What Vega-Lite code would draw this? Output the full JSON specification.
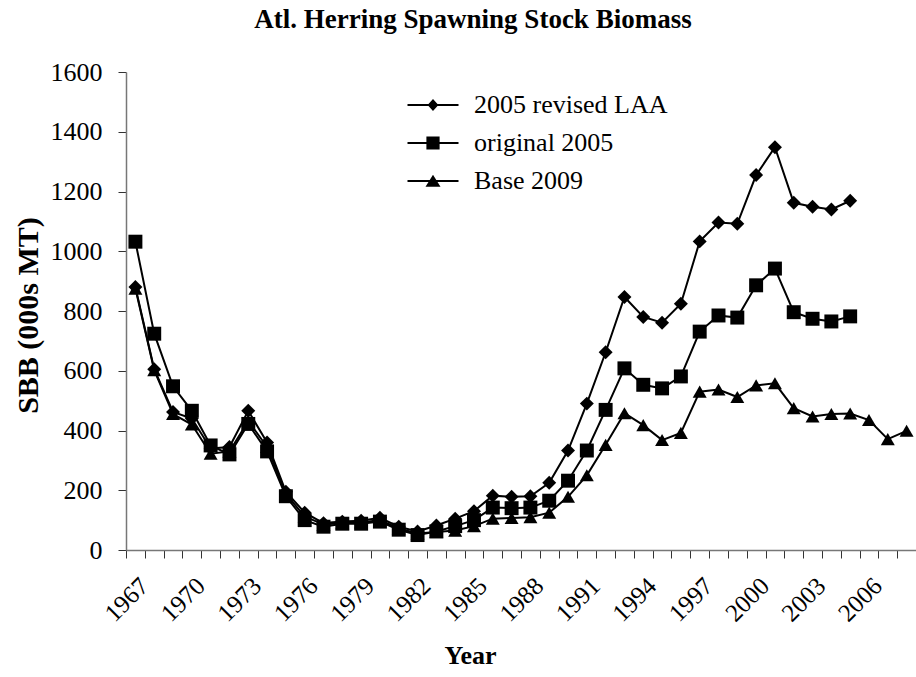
{
  "$schema": "https://vega.github.io/schema/vega-lite/v6.json",
  "width": 790,
  "height": 478,
  "autosize": {"type": "none"},
  "padding": {"left": 126, "top": 72, "right": 0, "bottom": 127},
  "background": "white",
  "config": {
    "view": {"stroke": null},
    "font": "Liberation Serif"
  },
  "title": {
    "text": "Atl. Herring Spawning Stock Biomass",
    "font": "Liberation Serif",
    "fontSize": 27,
    "fontWeight": "bold",
    "color": "black",
    "anchor": "middle",
    "frame": "group",
    "dx": -48,
    "offset": 25
  },
  "data": {
    "values": [
      {"year": 1967, "series": "2005 revised LAA", "sbb": 880},
      {"year": 1968, "series": "2005 revised LAA", "sbb": 605},
      {"year": 1969, "series": "2005 revised LAA", "sbb": 462},
      {"year": 1970, "series": "2005 revised LAA", "sbb": 440},
      {"year": 1971, "series": "2005 revised LAA", "sbb": 340},
      {"year": 1972, "series": "2005 revised LAA", "sbb": 345},
      {"year": 1973, "series": "2005 revised LAA", "sbb": 466},
      {"year": 1974, "series": "2005 revised LAA", "sbb": 360},
      {"year": 1975, "series": "2005 revised LAA", "sbb": 195},
      {"year": 1976, "series": "2005 revised LAA", "sbb": 125},
      {"year": 1977, "series": "2005 revised LAA", "sbb": 90},
      {"year": 1978, "series": "2005 revised LAA", "sbb": 95},
      {"year": 1979, "series": "2005 revised LAA", "sbb": 98},
      {"year": 1980, "series": "2005 revised LAA", "sbb": 108},
      {"year": 1981, "series": "2005 revised LAA", "sbb": 78},
      {"year": 1982, "series": "2005 revised LAA", "sbb": 62},
      {"year": 1983, "series": "2005 revised LAA", "sbb": 82},
      {"year": 1984, "series": "2005 revised LAA", "sbb": 105},
      {"year": 1985, "series": "2005 revised LAA", "sbb": 130},
      {"year": 1986, "series": "2005 revised LAA", "sbb": 182},
      {"year": 1987, "series": "2005 revised LAA", "sbb": 178},
      {"year": 1988, "series": "2005 revised LAA", "sbb": 180},
      {"year": 1989, "series": "2005 revised LAA", "sbb": 225},
      {"year": 1990, "series": "2005 revised LAA", "sbb": 333},
      {"year": 1991, "series": "2005 revised LAA", "sbb": 490},
      {"year": 1992, "series": "2005 revised LAA", "sbb": 662},
      {"year": 1993, "series": "2005 revised LAA", "sbb": 847},
      {"year": 1994, "series": "2005 revised LAA", "sbb": 780},
      {"year": 1995, "series": "2005 revised LAA", "sbb": 761},
      {"year": 1996, "series": "2005 revised LAA", "sbb": 824},
      {"year": 1997, "series": "2005 revised LAA", "sbb": 1033},
      {"year": 1998, "series": "2005 revised LAA", "sbb": 1096},
      {"year": 1999, "series": "2005 revised LAA", "sbb": 1092},
      {"year": 2000, "series": "2005 revised LAA", "sbb": 1255},
      {"year": 2001, "series": "2005 revised LAA", "sbb": 1348},
      {"year": 2002, "series": "2005 revised LAA", "sbb": 1162},
      {"year": 2003, "series": "2005 revised LAA", "sbb": 1149},
      {"year": 2004, "series": "2005 revised LAA", "sbb": 1140},
      {"year": 2005, "series": "2005 revised LAA", "sbb": 1169},
      {"year": 1967, "series": "original 2005", "sbb": 1032},
      {"year": 1968, "series": "original 2005", "sbb": 724},
      {"year": 1969, "series": "original 2005", "sbb": 548},
      {"year": 1970, "series": "original 2005", "sbb": 466},
      {"year": 1971, "series": "original 2005", "sbb": 350},
      {"year": 1972, "series": "original 2005", "sbb": 320},
      {"year": 1973, "series": "original 2005", "sbb": 422},
      {"year": 1974, "series": "original 2005", "sbb": 330},
      {"year": 1975, "series": "original 2005", "sbb": 180},
      {"year": 1976, "series": "original 2005", "sbb": 100},
      {"year": 1977, "series": "original 2005", "sbb": 78},
      {"year": 1978, "series": "original 2005", "sbb": 88},
      {"year": 1979, "series": "original 2005", "sbb": 88},
      {"year": 1980, "series": "original 2005", "sbb": 95},
      {"year": 1981, "series": "original 2005", "sbb": 68},
      {"year": 1982, "series": "original 2005", "sbb": 50},
      {"year": 1983, "series": "original 2005", "sbb": 62},
      {"year": 1984, "series": "original 2005", "sbb": 80},
      {"year": 1985, "series": "original 2005", "sbb": 100},
      {"year": 1986, "series": "original 2005", "sbb": 142},
      {"year": 1987, "series": "original 2005", "sbb": 140},
      {"year": 1988, "series": "original 2005", "sbb": 142},
      {"year": 1989, "series": "original 2005", "sbb": 165},
      {"year": 1990, "series": "original 2005", "sbb": 232},
      {"year": 1991, "series": "original 2005", "sbb": 333},
      {"year": 1992, "series": "original 2005", "sbb": 469},
      {"year": 1993, "series": "original 2005", "sbb": 608},
      {"year": 1994, "series": "original 2005", "sbb": 553},
      {"year": 1995, "series": "original 2005", "sbb": 541},
      {"year": 1996, "series": "original 2005", "sbb": 581},
      {"year": 1997, "series": "original 2005", "sbb": 731},
      {"year": 1998, "series": "original 2005", "sbb": 785},
      {"year": 1999, "series": "original 2005", "sbb": 778},
      {"year": 2000, "series": "original 2005", "sbb": 886},
      {"year": 2001, "series": "original 2005", "sbb": 942},
      {"year": 2002, "series": "original 2005", "sbb": 796},
      {"year": 2003, "series": "original 2005", "sbb": 774},
      {"year": 2004, "series": "original 2005", "sbb": 765},
      {"year": 2005, "series": "original 2005", "sbb": 782},
      {"year": 1967, "series": "Base 2009", "sbb": 875},
      {"year": 1968, "series": "Base 2009", "sbb": 602},
      {"year": 1969, "series": "Base 2009", "sbb": 455},
      {"year": 1970, "series": "Base 2009", "sbb": 420},
      {"year": 1971, "series": "Base 2009", "sbb": 322},
      {"year": 1972, "series": "Base 2009", "sbb": 330},
      {"year": 1973, "series": "Base 2009", "sbb": 432},
      {"year": 1974, "series": "Base 2009", "sbb": 345},
      {"year": 1975, "series": "Base 2009", "sbb": 188},
      {"year": 1976, "series": "Base 2009", "sbb": 112},
      {"year": 1977, "series": "Base 2009", "sbb": 85},
      {"year": 1978, "series": "Base 2009", "sbb": 90},
      {"year": 1979, "series": "Base 2009", "sbb": 92},
      {"year": 1980, "series": "Base 2009", "sbb": 100},
      {"year": 1981, "series": "Base 2009", "sbb": 72},
      {"year": 1982, "series": "Base 2009", "sbb": 55},
      {"year": 1983, "series": "Base 2009", "sbb": 60},
      {"year": 1984, "series": "Base 2009", "sbb": 65},
      {"year": 1985, "series": "Base 2009", "sbb": 80},
      {"year": 1986, "series": "Base 2009", "sbb": 105},
      {"year": 1987, "series": "Base 2009", "sbb": 107},
      {"year": 1988, "series": "Base 2009", "sbb": 110},
      {"year": 1989, "series": "Base 2009", "sbb": 125},
      {"year": 1990, "series": "Base 2009", "sbb": 178},
      {"year": 1991, "series": "Base 2009", "sbb": 250},
      {"year": 1992, "series": "Base 2009", "sbb": 352},
      {"year": 1993, "series": "Base 2009", "sbb": 458},
      {"year": 1994, "series": "Base 2009", "sbb": 418},
      {"year": 1995, "series": "Base 2009", "sbb": 368},
      {"year": 1996, "series": "Base 2009", "sbb": 392},
      {"year": 1997, "series": "Base 2009", "sbb": 530},
      {"year": 1998, "series": "Base 2009", "sbb": 537},
      {"year": 1999, "series": "Base 2009", "sbb": 512},
      {"year": 2000, "series": "Base 2009", "sbb": 551},
      {"year": 2001, "series": "Base 2009", "sbb": 558},
      {"year": 2002, "series": "Base 2009", "sbb": 475},
      {"year": 2003, "series": "Base 2009", "sbb": 447},
      {"year": 2004, "series": "Base 2009", "sbb": 455},
      {"year": 2005, "series": "Base 2009", "sbb": 457},
      {"year": 2006, "series": "Base 2009", "sbb": 435},
      {"year": 2007, "series": "Base 2009", "sbb": 371},
      {"year": 2008, "series": "Base 2009", "sbb": 399}
    ]
  },
  "encoding": {
    "x": {
      "field": "year",
      "type": "ordinal",
      "bandPosition": 0.5,
      "scale": {"type": "band", "paddingInner": 0, "paddingOuter": 0},
      "axis": {
        "title": "Year",
        "titleFont": "Liberation Serif",
        "titleFontSize": 26,
        "titleFontWeight": "bold",
        "titleColor": "black",
        "titleX": 344,
        "titleY": 105,
        "titleAlign": "center",
        "titleBaseline": "middle",
        "labelAngle": -45,
        "labelFont": "Liberation Serif",
        "labelFontSize": 25,
        "labelColor": "black",
        "labelPadding": 15,
        "labelDx": -15,
        "labelExpr": "(datum.value - 1967) % 3 === 0 ? datum.label : ''",
        "tickBand": "extent",
        "tickSize": 8,
        "tickColor": "#333333",
        "domainColor": "#777777",
        "domainWidth": 1.5,
        "labelOverlap": false,
        "labelBound": false,
        "grid": false
      }
    },
    "y": {
      "field": "sbb",
      "type": "quantitative",
      "scale": {"domain": [0, 1600], "nice": false},
      "axis": {
        "title": "SBB (000s MT)",
        "titleFont": "Liberation Serif",
        "titleFontSize": 30,
        "titleFontWeight": "bold",
        "titleColor": "black",
        "titleAngle": 270,
        "titleX": -89,
        "titleY": 243,
        "titleAlign": "center",
        "titleBaseline": "alphabetic",
        "values": [0, 200, 400, 600, 800, 1000, 1200, 1400, 1600],
        "format": "d",
        "labelFont": "Liberation Serif",
        "labelFontSize": 26,
        "labelColor": "black",
        "labelPadding": 16,
        "tickSize": 8,
        "tickColor": "#333333",
        "domainColor": "#777777",
        "domainWidth": 1.5,
        "grid": false
      }
    }
  },
  "layer": [
    {
      "mark": {"type": "line", "color": "black", "strokeWidth": 2},
      "encoding": {"detail": {"field": "series", "type": "nominal"}}
    },
    {
      "mark": {"type": "point", "filled": true, "color": "black", "opacity": 1, "size": 195},
      "encoding": {
        "shape": {
          "field": "series",
          "type": "nominal",
          "scale": {
            "domain": ["2005 revised LAA", "original 2005", "Base 2009"],
            "range": ["diamond", "square", "triangle-up"]
          },
          "legend": null
        }
      }
    },
    {
      "transform": [{"filter": "datum.sbb < 0"}],
      "mark": {"type": "point", "filled": true, "color": "black", "opacity": 1, "size": 144},
      "encoding": {
        "shape": {
          "field": "series",
          "type": "nominal",
          "scale": {
            "domain": ["2005 revised LAA", "original 2005", "Base 2009"],
            "range": [
              "M-4.25,-0.17H4.25V0.17H-4.25Z M-0.9,0L0,-1L0.9,0L0,1Z",
              "M-4.25,-0.17H4.25V0.17H-4.25Z M-1.1,-1.1H1.1V1.1H-1.1Z",
              "M-4.25,-0.17H4.25V0.17H-4.25Z M0,-1.05L1.25,0.95L-1.25,0.95Z"
            ]
          },
          "legend": {
            "orient": "none",
            "legendX": 294,
            "legendY": 20,
            "title": null,
            "padding": 0,
            "labelFont": "Liberation Serif",
            "labelFontSize": 26,
            "labelColor": "black",
            "labelLimit": 0,
            "labelOffset": 28,
            "rowPadding": 12,
            "symbolSize": 144,
            "symbolFillColor": "black",
            "symbolStrokeColor": "black",
            "symbolStrokeWidth": 0,
            "symbolOpacity": 1
          }
        }
      }
    }
  ],
  "resolve": {"scale": {"shape": "independent"}}
}
